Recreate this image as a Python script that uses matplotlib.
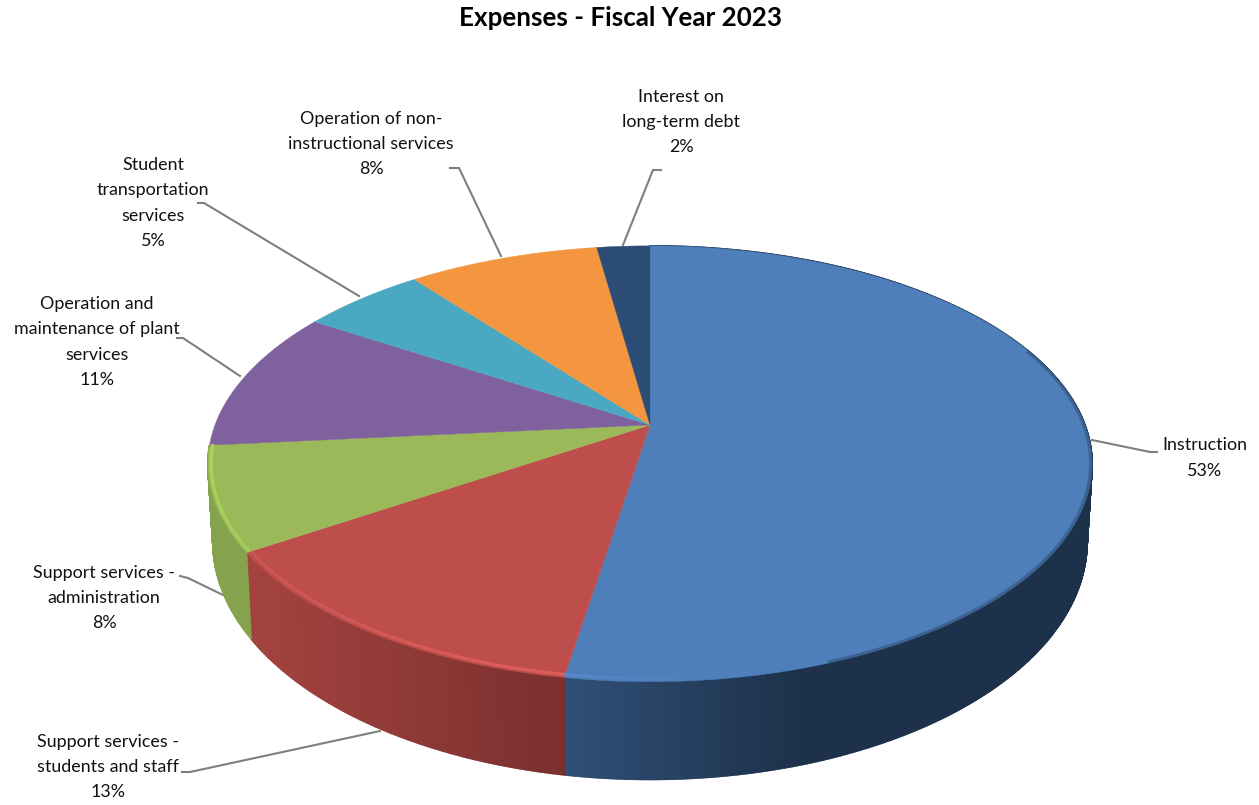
import numpy as np
import matplotlib
matplotlib.use("Agg")
import matplotlib.pyplot as plt
from matplotlib.colors import to_rgb

# values, clockwise from 12 o'clock
categories = ["Instruction", "Support services -\nstudents and staff", "Support services -\nadministration",
              "Operation and\nmaintenance of plant\nservices", "Student\ntransportation\nservices",
              "Operation of non-\ninstructional services", "Interest on\nlong-term debt"]
shares = [52.6, 13.2, 7.7, 10.5, 5.4, 8.3, 2.3]
pct_labels = ["53%", "13%", "8%", "11%", "5%", "8%", "2%"]
top_colors = ["#4f7fba", "#bd4e4b", "#9bb958", "#7f619e", "#4aa8c3", "#f3963f", "#2b4c74"]
rim_colors = ["#5f93d3", "#e8625f", "#aed85c"]
wall_left = ["#2f5077", "#a3433f", "#85a24c"]
wall_right = ["#1d314a", "#7a2f2e", "#85a24c"]
wall_span = [(565, 800), (255, 565), (213, 255)]

# label centre, leader line (in picture pixels)
label_pos = [(1205, 458), (108, 767), (104, 598), (97, 342), (153, 203), (371, 144), (681, 122)]
leaders = [[(1092, 440), (1150, 452), (1157, 452)],
           [(380, 731), (190, 772), (182, 772)],
           [(223, 595), (188, 578), (180, 576)],
           [(240, 376), (183, 338), (177, 338)],
           [(359, 296), (204, 203), (198, 203)],
           [(501, 256), (459, 168), (450, 168)],
           [(623, 245), (653, 170), (661, 170)]]

cx, cy = 650, 425       # apex of the pie
R, S, k = 435, 211, 0.178   # perspective of the top face
top_cy, top_rx, top_ry = 465, 442, 220
bot_cy, bot_rx, bot_ry = 543, 437, 240


def project(theta, r=1.0):
    u = r * np.sin(theta)
    v = r * np.cos(theta)
    w = 1 + k * v
    return cx + R * u / w, cy - S * v / w


def bottom_rim(theta):
    x, y = project(theta)
    ex = (x - cx) / top_rx
    ey = (y - top_cy) / top_ry
    return cx + bot_rx * ex, bot_cy + bot_ry * ey


def faded_line(th, color, lw, a0, a1, r):
    # line along the rim whose opacity goes from a0 to a1
    for j, chunk in enumerate(np.array_split(th, 24)):
        a = a0 + (a1 - a0) * j / 23
        xs, ys = project(np.r_[chunk, chunk[-1] + 0.005], r)
        ax.plot(xs, ys, color=color, lw=lw, alpha=a, solid_capstyle="butt", zorder=4)


plt.rcParams["font.family"] = ["Lato", "DejaVu Sans"]
fig = plt.figure(figsize=(12.59, 8.05), dpi=100)
ax = fig.add_axes([0, 0, 1, 1])
ax.set_xlim(0, 1259)
ax.set_ylim(805, 0)
ax.axis("off")

edges = np.cumsum([0] + shares) / sum(shares) * 2 * np.pi

# side wall, thin strips so the shading can change along it
for i in range(3):
    th = np.linspace(edges[i], edges[i + 1], max(int((edges[i + 1] - edges[i]) * 200), 4))
    x0, x1 = wall_span[i]
    c0, c1 = np.array(to_rgb(wall_left[i])), np.array(to_rgb(wall_right[i]))
    for a, b in zip(th[:-1], th[1:]):
        xa, ya = project(a)
        xb, yb = project(b)
        xc, yc = bottom_rim(b)
        xd, yd = bottom_rim(a)
        t = np.clip((0.5 * (xa + xb) - x0) / (x1 - x0), 0, 1)
        col = c0 + (c1 - c0) * t
        ax.fill([xa, xb, xc, xd], [ya, yb, yc, yd], color=col, lw=1.2, zorder=2)

# top face
for i in range(len(shares)):
    th = np.linspace(edges[i], edges[i + 1], 200)
    xs, ys = project(th)
    ax.fill(np.r_[cx, xs], np.r_[cy, ys], color=top_colors[i], lw=0.3, zorder=3)

# bevel along the front edge
faded_line(np.linspace(edges[1], edges[2], 200), rim_colors[1], 2.2, 0.75, 0.35, 0.99)
faded_line(np.linspace(edges[2], edges[3], 100), rim_colors[2], 2.4, 0.6, 0.9, 0.993)
faded_line(np.linspace(edges[1] - np.radians(18), edges[1], 100), rim_colors[0], 2.0, 0.0, 0.5, 0.99)

# blurred dark edge on the right of the big slice
th = np.linspace(np.radians(68), np.radians(160), 200)
xs, ys = project(th, 0.997)
ax.plot(xs, ys, color="#1d314a", lw=2.4, alpha=0.35, solid_capstyle="butt", zorder=4)

for i in range(len(shares)):
    pts = np.array(leaders[i])
    ax.plot(pts[:, 0], pts[:, 1], color="#7f7f7f", lw=1.5, zorder=1)
    ax.text(label_pos[i][0], label_pos[i][1], categories[i] + "\n" + pct_labels[i], ha="center", va="center",
            multialignment="center", fontsize=12.9, linespacing=1.72, color="#111111", zorder=5)

ax.text(620.5, 18, "Expenses - Fiscal Year 2023", ha="center", va="center", fontsize=18.7,
        fontweight="bold", color="black")

fig.savefig("out.png", dpi=100)
